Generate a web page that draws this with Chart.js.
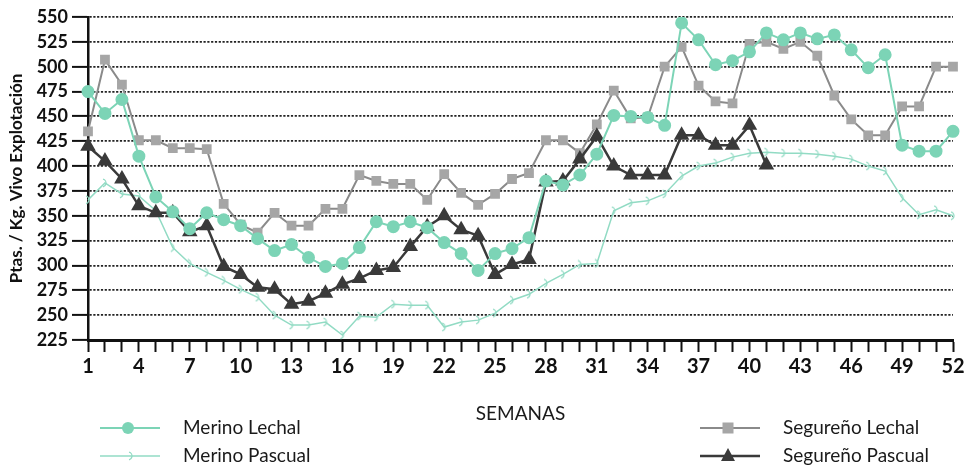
<!DOCTYPE html>
<html>
<head>
<meta charset="utf-8">
<script src="https://cdn.jsdelivr.net/npm/chart.js@4.4.1/dist/chart.umd.min.js"></script>
<style>
  html, body { margin: 0; padding: 0; background: #fff; }
  #wrap { position: relative; width: 971px; height: 470px; }
</style>
</head>
<body>
<div id="wrap"><canvas id="myChart" width="971" height="470"></canvas></div>
<script>
// DATA
const weeks = [1, 2, 3, 4, 5, 6, 7, 8, 9, 10, 11, 12, 13, 14, 15, 16, 17, 18, 19, 20, 21, 22, 23, 24, 25, 26,
  27, 28, 29, 30, 31, 32, 33, 34, 35, 36, 37, 38, 39, 40, 41, 42, 43, 44, 45, 46, 47, 48, 49, 50, 51, 52];
const weekLabels = ['1', '4', '7', '10', '13', '16', '19', '22', '25', '28', '31', '34', '37', '40', '43', '46', '49', '52'];
const yTicks = [225, 250, 275, 300, 325, 350, 375, 400, 425, 450, 475, 500, 525, 550];

const merinoLechal = [475, 453, 467, 410, 369, 354, 337, 353, 346, 340, 327, 315, 321, 308, 299, 302, 318, 344, 339, 344,
  338, 323, 312, 295, 312, 317, 328, 385, 381, 391, 412, 451, 450, 449, 441, 544, 527, 502, 506, 515,
  534, 527, 534, 528, 532, 517, 499, 512, 421, 415, 415, 435];
const merinoPascual = [366, 383, 372, 370, 355, 318, 302, 293, 285, 276, 268, 250, 240, 240, 243, 230, 249, 248, 261, 260,
  260, 238, 243, 245, 252, 265, 271, 282, 291, 301, 302, 355, 363, 365, 372, 390, 400, 403, 409, 413,
  414, 413, 413, 412, 410, 407, 400, 395, 368, 351, 356, 350];
const segurenoLechal = [435, 507, 482, 426, 426, 418, 418, 417, 362, 341, 333, 353, 340, 340, 357, 357, 391, 385, 382, 382,
  366, 392, 373, 361, 372, 387, 393, 426, 426, 413, 442, 476, 448, 449, 500, 520, 481, 465, 463, 523,
  525, 518, 525, 511, 471, 447, 431, 431, 460, 460, 500, 500];
const segurenoPascual = [420, 405, 387, 360, 353, 353, 334, 340, 299, 291, 278, 276, 261, 264, 272, 281, 287, 295, 298, 319,
  339, 350, 336, 330, 291, 301, 306, 384, 385, 407, 430, 400, 391, 391, 391, 431, 431, 421, 421, 441,
  401];

// STYLE
const TEAL = '#7cd4b6';
const TEAL_LIGHT = '#92dbc4';
const GREY = '#a6a6a6';
const GREY_LINE = '#8a8a8a';
const DARK = '#3a3a3a';
const FONT = 'Lato, "Open Sans", sans-serif';

// small hook drawn on the Merino Pascual line
function makeBarb() {
  const c = document.createElement('canvas');
  c.width = 8;
  c.height = 10;
  const g = c.getContext('2d');
  g.strokeStyle = TEAL_LIGHT;
  g.lineWidth = 1.3;
  g.beginPath();
  g.arc(1, 5, 4, -Math.PI / 2.4, Math.PI / 2.4);
  g.stroke();
  return c;
}
const barb = makeBarb();

// legend drawn on the canvas in two separate columns
const legendPlugin = {
  id: 'splitLegend',
  afterDraw(chart) {
    const ctx = chart.ctx;
    const items = [
      { text: 'Merino Lechal', ds: 0, x: 100, y: 428 },
      { text: 'Merino Pascual', ds: 1, x: 100, y: 456 },
      { text: 'Segureño Lechal', ds: 2, x: 700, y: 428 },
      { text: 'Segureño Pascual', ds: 3, x: 700, y: 456 }
    ];
    ctx.save();
    items.forEach(function(it) {
      const ds = chart.data.datasets[it.ds];
      ctx.strokeStyle = ds.borderColor;
      ctx.lineWidth = ds.borderWidth;
      ctx.beginPath();
      ctx.moveTo(it.x, it.y);
      ctx.lineTo(it.x + 60, it.y);
      ctx.stroke();
      const cx = it.x + 28;
      ctx.fillStyle = ds.pointBackgroundColor;
      if (ds.pointStyle === 'circle') {
        ctx.beginPath();
        ctx.arc(cx, it.y, 6, 0, Math.PI * 2);
        ctx.fill();
      } else if (ds.pointStyle === 'rect') {
        ctx.fillRect(cx - 5.5, it.y - 5.5, 11, 11);
      } else if (ds.pointStyle === 'triangle') {
        ctx.beginPath();
        ctx.moveTo(cx, it.y - 8);
        ctx.lineTo(cx + 7, it.y + 5);
        ctx.lineTo(cx - 7, it.y + 5);
        ctx.closePath();
        ctx.fill();
      } else {
        ctx.drawImage(barb, cx - 1, it.y - 5);
      }
      ctx.fillStyle = '#1a1a1a';
      ctx.font = '19px ' + FONT;
      ctx.textBaseline = 'middle';
      ctx.textAlign = 'left';
      ctx.fillText(it.text, it.x + 83, it.y);
    });
    ctx.restore();
  }
};

const ctx = document.getElementById('myChart').getContext('2d');
const myChart = new Chart(ctx, {
  type: 'line',
  data: {
    labels: weeks,
    datasets: [{
      label: 'Merino Lechal',
      data: merinoLechal,
      borderColor: TEAL,
      backgroundColor: TEAL,
      pointBackgroundColor: TEAL,
      pointBorderColor: TEAL,
      pointStyle: 'circle',
      pointRadius: 5.5,
      borderWidth: 2,
      order: 1
    }, {
      label: 'Merino Pascual',
      data: merinoPascual,
      borderColor: TEAL_LIGHT,
      backgroundColor: TEAL_LIGHT,
      pointBackgroundColor: TEAL_LIGHT,
      pointStyle: barb,
      pointRadius: 4,
      borderWidth: 1.5,
      order: 4
    }, {
      label: 'Segureño Lechal',
      data: segurenoLechal,
      borderColor: GREY_LINE,
      backgroundColor: GREY,
      pointBackgroundColor: GREY,
      pointBorderColor: GREY,
      pointStyle: 'rect',
      pointRadius: 5.5,
      borderWidth: 2,
      order: 3
    }, {
      label: 'Segureño Pascual',
      data: segurenoPascual,
      borderColor: DARK,
      backgroundColor: DARK,
      pointBackgroundColor: DARK,
      pointBorderColor: DARK,
      pointStyle: 'triangle',
      pointRadius: 6.5,
      borderWidth: 2.5,
      order: 2
    }]
  },
  options: {
    responsive: false,
    animation: false,
    devicePixelRatio: 1,
    layout: { padding: { left: 0, right: 18, top: 17, bottom: 0 } },
    plugins: {
      legend: { display: false },
      tooltip: { enabled: false }
    },
    scales: {
      x: {
        type: 'category',
        offset: false,
        afterFit: function(scale) { scale.height = 130; },
        border: { display: true, color: '#111', width: 3 },
        grid: {
          drawOnChartArea: false,
          drawTicks: true,
          tickLength: 12,
          tickColor: '#111',
          tickWidth: 2
        },
        ticks: {
          autoSkip: false,
          maxRotation: 0,
          padding: 3,
          color: '#111',
          font: { family: FONT, size: 20, weight: 'bold' },
          callback: function(value, index) {
            const w = String(weeks[index]);
            return weekLabels.indexOf(w) >= 0 ? w : '';
          }
        },
        title: {
          display: true,
          text: 'SEMANAS',
          color: '#1a1a1a',
          font: { family: FONT, size: 19 },
          padding: { top: 0, bottom: 45 }
        }
      },
      y: {
        min: 225,
        max: 550,
        afterFit: function(scale) { scale.width = 88; },
        afterBuildTicks: function(scale) {
          scale.ticks = yTicks.map(function(v) { return { value: v }; });
        },
        border: { display: true, color: '#111', width: 2.5, dash: [2.2, 1.6] },
        grid: {
          color: '#222',
          lineWidth: 1.8,
          tickLength: 16,
          tickColor: '#111',
          tickWidth: 2
        },
        ticks: {
          padding: 4,
          color: '#111',
          font: { family: FONT, size: 18, weight: 'bold' }
        },
        title: {
          display: true,
          text: 'Ptas. / Kg. Vivo Explotación',
          color: '#111',
          font: { family: FONT, size: 17, weight: 'bold' },
          padding: { top: 6, bottom: 0 }
        }
      }
    }
  },
  plugins: [legendPlugin]
});
</script>
</body>
</html>
